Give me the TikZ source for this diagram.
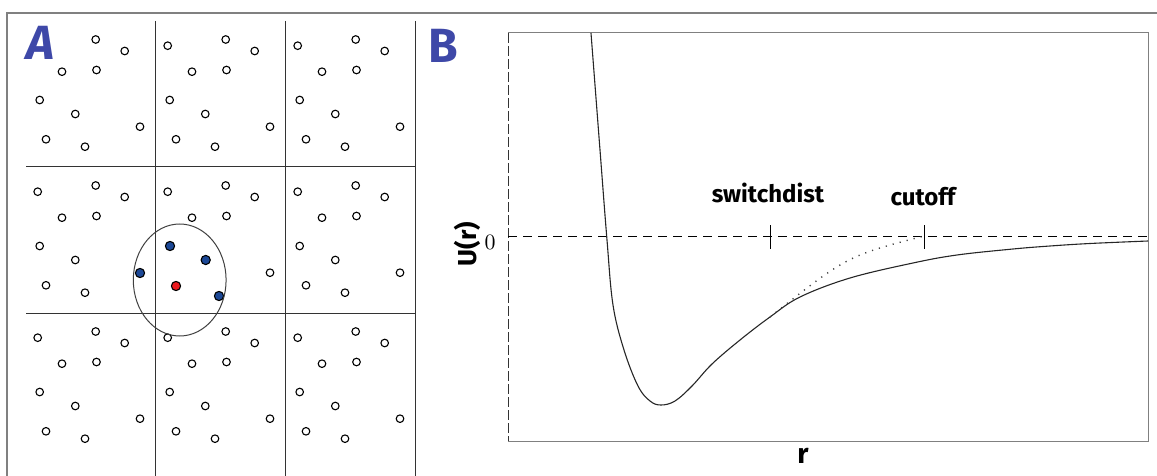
\documentclass[tikz,border=0pt]{standalone}
\usepackage{fontspec}
\newfontfamily\handfont{Fira Sans}
\usetikzlibrary{positioning}
\definecolor{panelblue}{RGB}{62,72,168}
\definecolor{atomblue}{RGB}{28,72,150}
\definecolor{atomred}{RGB}{235,25,30}
\tikzset{
  open_n/.style = {circle, draw=black, fill=white, inner sep=0pt,
    minimum size=3.8pt, line width=0.55pt},% atome du voisinage
  blue_n/.style = {open_n, fill=atomblue, minimum size=4.6pt},% atome dans le rayon
  red_n/.style = {open_n, fill=atomred, minimum size=4.6pt},% atome central
  panel_lbl/.style = {text=panelblue, inner sep=0pt,
    font=\handfont\bfseries\fontsize{24}{24}\selectfont},
  hand_lbl/.style = {inner sep=0pt,
    font=\handfont\bfseries\fontsize{12}{12}\selectfont},
  grid_l/.style = {draw=black!80, line width=0.5pt},
  frame_l/.style = {draw=black!50, line width=0.7pt},
}

\begin{document}
\begin{tikzpicture}[x=0.5pt,y=-0.5pt]
\useasboundingbox (0,0) rectangle (1157,476);

% cadre
\draw[frame_l] (7,476) -- (7,13) -- (1157,13);

% A : boites periodiques
\foreach \gx in {155,285,415}
  \draw[grid_l] (\gx,21) -- (\gx,476);
\foreach \gy in {167,313}
  \draw[grid_l] (26,\gy) -- (415,\gy);
\foreach \i in {0,1,2}{
  \foreach \j in {0,1,2}{
    \foreach \px/\py [count=\k] in {37.7/45.7, 95.7/39.5, 124.7/51, 62/71.7,
        96.5/70, 39.7/100, 75.3/114, 140/126.7, 46/139.3, 85/146.7}{
      \pgfmathtruncatemacro{\hide}{(\i==0 && \j==0 && \k==1)
        || (\i==0 && \j==1 && \k==8)
        || (\i==1 && \j==1 && (\k==6 || \k==7 || \k==9 || \k==10))}
      \ifnum\hide=0
        \node[open_n] (p-\i-\j-\k) at (\px+130*\i,\py+146*\j) {};
      \fi
    }
  }
}
\node[blue_n] (b1) at (140,273) {};
\node[blue_n] (b2) at (170,246) {};
\node[blue_n] (b3) at (205.7,260) {};
\node[blue_n] (b4) at (219,296) {};
\node[red_n] (c0) at (176,286) {};
\draw[draw=black!75, line width=0.5pt] (c0.center) ++(3.7,-6)
  ellipse [x radius=23.2pt, y radius=28pt];
\node[panel_lbl] (lblA) at (40.5,43) {\itshape A};

% B : potentiel
\node[panel_lbl] (lblB) at (443,46) {B};
\draw[frame_l, line width=0.5pt] (508,33) -- (1148,33) -- (1148,441) -- (508,441);
\draw[black!80, line width=0.5pt, dash pattern=on 5pt off 1.5pt] (508,33) -- (508,441);
\coordinate (zl) at (508,236);
\coordinate (zr) at (1148,236);
\draw[black, line width=0.5pt, dash pattern=on 4.5pt off 3pt] (zl) -- (zr);
\coordinate (sw) at (770,236);
\coordinate (co) at (924,236);
\draw[black, line width=0.5pt] ([yshift=5.5pt]sw) -- ([yshift=-6.5pt]sw);
\draw[black, line width=0.5pt] ([yshift=5.5pt]co) -- ([yshift=-6.5pt]co);
\draw[black!85, line width=0.55pt] plot[smooth, tension=0.6] coordinates {
  (591,33) (600,150) (607,240) (613,305) (624,350) (638,386) (650,401)
  (661,405) (675,401) (692,386) (712,364) (740,340) (770,317) (800,297)
  (850,278) (913,263) (957,255) (1013,249) (1050,246) (1090,243.5)
  (1148,241)};
\coordinate (swc) at (770,317);
\draw[black!75, line width=0.7pt, dash pattern=on 0.6pt off 3pt]
  (swc) .. controls (847,256) .. (co);
\node[hand_lbl] (swl) at (768,193) {switchdist};
\node[hand_lbl] (col) at (923,197) {cutoff};
\node[inner sep=0pt, font=\fontsize{11}{11}\selectfont] (zero) at (490,242) {$0$};
\node[hand_lbl, rotate=90, font=\handfont\bfseries\fontsize{13}{13}\selectfont]
  (ulbl) at (467,244) {U(r)};
\node[hand_lbl, font=\handfont\bfseries\fontsize{14}{14}\selectfont]
  (rlbl) at (803,456) {r};
\end{tikzpicture}
\end{document}
